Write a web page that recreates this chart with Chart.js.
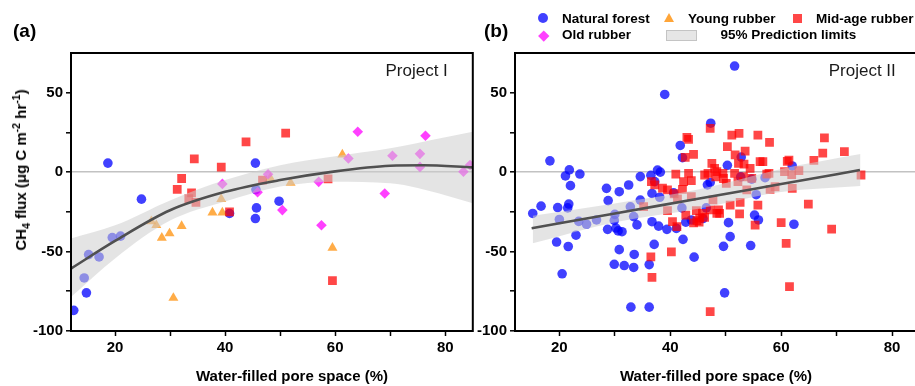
<!DOCTYPE html>
<html>
<head>
<meta charset="utf-8">
<script src="https://cdn.jsdelivr.net/npm/chart.js@4.4.1/dist/chart.umd.min.js"></script>
<style>
  body { margin: 0; width: 915px; height: 386px; overflow: hidden; background: #fff; position: relative;
         font-family: "Liberation Sans", Arial, sans-serif; color: #000; }
  canvas { position: absolute; top: 0; }
  #chartA { left: 0; }
  #chartB { left: 475px; }
  .txt { position: absolute; white-space: nowrap; font-weight: bold; }
  .leg { font-size: 13.5px; line-height: 16px; }
  .panel { font-size: 19px; line-height: 22px; top: 20px; }
  .xt { font-size: 15px; line-height: 18px; top: 367px; transform: translateX(-50%); }
  .yt { font-size: 15px; line-height: 18px; left: 21px; top: 170px; transform: translate(-50%, -50%) rotate(-90deg); }
  .yt sub, .yt sup { font-size: 70%; line-height: 0; }
  .mk { position: absolute; }
</style>
</head>
<body>
<canvas id="chartA" width="479" height="386"></canvas>
<canvas id="chartB" width="451" height="386"></canvas>

<div class="txt panel" style="left:13px">(a)</div>
<div class="txt panel" style="left:484px">(b)</div>
<div class="txt yt">CH<sub>4</sub> flux (μg C m<sup>-2</sup> hr<sup>-1</sup>)</div>
<div class="txt xt" style="left:292px">Water-filled pore space (%)</div>
<div class="txt xt" style="left:716px">Water-filled pore space (%)</div>

<div class="mk" style="left:538px;top:13px;width:10px;height:10px;border-radius:50%;background:rgba(0,0,255,0.75)"></div>
<div class="mk" style="left:664px;top:13px;width:0;height:0;border-left:5.4px solid transparent;border-right:5.4px solid transparent;border-bottom:9px solid rgba(255,140,0,0.78)"></div>
<div class="mk" style="left:792.5px;top:14px;width:9px;height:9px;background:rgba(255,0,0,0.72)"></div>
<div class="mk" style="left:540px;top:32px;width:7.5px;height:7.5px;transform:rotate(45deg);background:rgba(255,0,255,0.75)"></div>
<div class="mk" style="left:666px;top:30px;width:29px;height:9px;background:#e6e6e6;border:1px solid #c4c4c4"></div>
<div class="txt leg" style="left:562px;top:10.6px">Natural forest</div>
<div class="txt leg" style="left:688px;top:10.6px">Young rubber</div>
<div class="txt leg" style="left:816px;top:10.6px">Mid-age rubber</div>
<div class="txt leg" style="left:562px;top:27.3px">Old rubber</div>
<div class="txt leg" style="left:720.5px;top:27.3px">95% Prediction limits</div>

<script>
// axes
const xMin = 12, xMax = 85, yMin = -100, yMax = 75;
const xTicks = [20, 30, 40, 50, 60, 70, 80];
const yTicks = [-100, -75, -50, -25, 0, 25, 50];

// Project I
const forestA_x = [12.5, 14.8, 14.4, 15.2, 17.1, 19.5, 21.0, 18.7, 24.8, 40.8, 45.5, 45.6, 45.7, 45.5, 49.8];
const forestA_y = [-87, -76, -66.6, -51.9, -53.4, -41.2, -40.3, 5.7, -17, -26, 5.7, -11, -22.5, -29.2, -18.3];
const youngA_x = [26.6, 27.5, 28.5, 29.9, 32.1, 30.6, 37.7, 39.5, 39.3, 51.9, 48.2, 61.3, 59.5];
const youngA_y = [-30.9, -33.4, -41.4, -38.6, -34, -79.2, -25.4, -25.4, -17, -6.7, -3.7, 11.1, -47.7];
const midA_x = [31.3, 32.1, 34.4, 33.9, 33.4, 34.7, 39.3, 40.8, 43.8, 51.0, 46.8, 58.7, 59.5];
const midA_y = [-10.9, -4, 8.4, -13, -16.6, -19.1, 3.2, -25, 19.1, 24.6, -5, -4.2, -68.3];
const oldA_x = [39.5, 47.8, 45.9, 50.4, 57.0, 57.5, 64.1, 62.4, 69.0, 70.4, 75.4, 75.4, 76.4, 83.3, 84.5];
const oldA_y = [-7.4, -1.3, -12.7, -23.9, -6.1, -33.4, 25.4, 8.6, -13.4, 10.3, 11.5, 3.3, 22.9, 0.3, 4.5];
const fitA_x = [12, 20, 30, 40, 50, 60, 70, 76, 85];
const fitA_y = [-60.7, -43.3, -24, -12.4, -5, 0.5, 4, 4.3, 3];
const bandA_x = [12, 20, 30, 40, 50, 60, 70, 80, 85];
const bandA_hi = [-41.8, -33.5, -17.8, -5, 4.4, 10, 15, 22, 25.4];
const bandA_lo = [-78.6, -54.3, -30.5, -18.5, -9, -6, -7, -14.5, -19.6];

// Project II
const forestB_x = [15.2, 16.7, 18.3, 19.7, 20.0, 19.5, 20.5, 21.1, 21.8, 22.0, 21.7, 21.5, 21.6, 23.7, 23.0, 23.5, 24.9,
  26.7, 28.5, 28.8, 28.7, 29.9, 30.0, 30.8, 30.2, 30.6, 31.3, 30.8, 29.9, 31.7, 32.5, 32.8, 33.4, 34.0, 33.5, 33.4, 32.9,
  34.6, 34.6, 36.2, 36.2, 36.5, 36.7, 36.7, 37.1, 37.7, 38.2, 37.2, 38.1, 37.9, 39.0, 39.4, 40.6, 41.8, 42.2, 42.1, 42.3,
  41.1, 42.8, 43.8, 44.3, 45.9, 46.7, 47.3, 47.2, 49.6, 50.3, 50.5, 50.8, 49.8, 51.6, 52.8, 52.7, 54.5, 54.7, 55.2, 55.9,
  55.5, 57.1, 62.0, 62.3, 46.5];
const forestB_y = [-26, -21.4, 7.1, -22.3, -29.8, -44, -64, -2.4, 1.4, -8.5, -20.1, -22.5, -46.8, -1.2, -39.7, -31, -32.8,
  -30.1, -10.2, -17.9, -36, -30.4, -26.6, -12.3, -35.2, -37, -37.5, -48.8, -58, -58.8, -8.1, -21.8, -28, -33.2, -51.8, -60, -85,
  -2.8, -17.6, -58.2, -85, -2, -13.4, -31.2, -45.5, 1.3, 0, -6, -15.8, -34, 48.9, -36, -13, 16.8, 9.1, -22.5, -42.3,
  -35.4, -31.5, -30.1, -53.5, -29.2, -8, 30.8, -6.5, -46.7, 4.3, -31.8, -40.6, -76, 66.8, 9.5, -3, -46.2, -4.4, -27, -30.1,
  -14.2, -3.5, 3.9, -32.8, -22.5];
const midB_x = [35.2, 36.6, 37.2, 36.5, 36.7, 38.6, 39.5, 40.2, 39.5, 41.0, 40.7, 41.3, 40.4, 41.2, 42.2, 42.4, 43.0, 43.3,
  42.7, 43.3, 43.8, 44.2, 43.8, 42.8, 44.7, 44.8, 45.3, 45.8, 46.8, 47.5, 47.2, 48.0, 48.2, 47.7, 48.7, 48.9, 47.2, 48.4,
  50.3, 49.5, 50.1, 50.8, 51.1, 52.4, 51.7, 52.3, 51.6, 52.2, 52.6, 52.5, 53.5, 53.3, 54.4, 53.8, 55.8, 56.2, 56.7, 57.4,
  57.9, 55.8, 55.3, 58.0, 58.9, 60.0, 60.9, 61.5, 61.1, 61.4, 60.6, 61.9, 62.0, 63.2, 64.9, 65.9, 67.5, 67.8, 69.1, 71.4,
  74.4, 47.2, 46.2, 48.4, 49.6, 53.2, 54.7, 57.8, 44.2, 45.2, 46.2];
const midB_y = [-21.7, -6, -8, -53.3, -66.3, -10.1, -11.2, -50.2, -24.2, -1.2, -13.6, -16.9, -31.2, -34.3, -10.9, -6, 21.9, 20.6,
  9.3, -0.8, -5.4, 11.2, -15.4, -27, -24.2, -30.5, -29, -26, -0.8, 5.5, 27.5, 2.4, -2.9, -17.5, -23.8, -26, -23.8, -25.9,
  16, -0.8, -7.1, -20.7, 23.3, 24.4, 10.8, 5.5, -0.8, -6, -19, -26.3, 13.3, 5.1, 2.4, -11.2, 23.3, 6.6, 6.6, -1.2,
  18.7, -20.7, -33.3, -10.9, -9.2, -31.8, -44.8, -72, 6.8, 7.6, 0.3, -1.5, -10.2, 0.9, -20.2, 7.4, 11.9, 21.5, -35.9, 12.9,
  -1.8, -87.8, -1.8, 0.3, -4, -2.9, -3.9, -0.8, -32, -31.5, -28.5];
const fitB_x = [15, 30, 45, 60, 74.2];
const fitB_y = [-35.3, -26, -16.8, -7.5, 1.3];
const bandB_x = [15.2, 30, 45, 60, 74.3];
const bandB_hi = [-27.5, -19.7, -11, 2, 11.4];
const bandB_lo = [-44.8, -31.5, -23, -12.5, -8.7];

const FONT = '"Liberation Sans", Arial, sans-serif';
const zip = (xs, ys) => xs.map((x, i) => ({ x, y: ys[i] }));

const framePlugin = {
  id: 'frame',
  afterDraw(chart, args, opts) {
    const { ctx, chartArea: a } = chart;
    ctx.save();
    ctx.strokeStyle = '#000';
    ctx.lineWidth = 2;
    ctx.strokeRect(a.left, a.top, a.right - a.left, a.bottom - a.top);
    ctx.font = '17px ' + FONT;
    ctx.fillStyle = '#1a1a1a';
    ctx.textAlign = 'right';
    ctx.textBaseline = 'alphabetic';
    ctx.fillText(opts.text, a.right - opts.right, a.top + 22.5);
    ctx.restore();
  }
};

function pts(data, color, style, radius, order) {
  return { type: 'scatter', data, backgroundColor: color, pointStyle: style, pointRadius: radius,
           pointBorderWidth: 0, pointHoverRadius: radius, order };
}

function curve(data, opts) {
  return Object.assign({ type: 'line', data, pointRadius: 0, cubicInterpolationMode: 'monotone', fill: false }, opts);
}

function makeChart(id, groups, fit, hi, lo, label, axisW, padR, labelRight) {
  const datasets = [
    curve(fit, { borderColor: '#505050', borderWidth: 2.6, order: 0 }),
    curve(hi, { borderWidth: 0, borderColor: 'rgba(0,0,0,0)', backgroundColor: 'rgba(205,205,205,0.55)', fill: '+1', order: 1 }),
    curve(lo, { borderWidth: 0, borderColor: 'rgba(0,0,0,0)', order: 2 }),
    ...groups
  ];
  const tickFont = { family: FONT, size: 15, weight: 'bold' };
  return new Chart(document.getElementById(id), {
    type: 'scatter',
    data: { datasets },
    plugins: [framePlugin],
    options: {
      responsive: false,
      animation: false,
      layout: { padding: { top: 53, right: padR, left: 0, bottom: 0 } },
      plugins: { legend: { display: false }, tooltip: { enabled: false }, frame: { text: label, right: labelRight } },
      scales: {
        x: {
          type: 'linear', min: xMin, max: xMax,
          afterBuildTicks: s => { s.ticks = xTicks.map(v => ({ value: v })); },
          afterFit: s => { s.height = 55; },
          border: { display: false },
          grid: { drawOnChartArea: false, tickColor: '#000', tickLength: 5, tickWidth: 1.5 },
          ticks: { padding: 3, font: tickFont, color: '#000', autoSkip: false, maxRotation: 0,
                   callback: v => (v % 20 === 0 ? v : '') }
        },
        y: {
          type: 'linear', min: yMin, max: yMax,
          afterBuildTicks: s => { s.ticks = yTicks.map(v => ({ value: v })); },
          afterFit: s => { s.width = axisW; },
          border: { display: false },
          grid: { color: c => (c.tick && c.tick.value === 0 ? '#c2c2c2' : 'rgba(0,0,0,0)'), lineWidth: 1.6,
                  tickColor: '#000', tickLength: 5, tickWidth: 1.5 },
          ticks: { padding: 3, font: tickFont, color: '#000', autoSkip: false,
                   callback: v => (v % 50 === 0 ? v : '') }
        }
      }
    }
  });
}

const BLUE = 'rgba(0,0,255,0.75)', ORANGE = 'rgba(255,140,0,0.72)', RED = 'rgba(255,0,0,0.72)', MAGENTA = 'rgba(255,0,255,0.75)';

makeChart('chartA', [
  pts(zip(oldA_x, oldA_y), MAGENTA, 'rectRot', 5.3, 3),
  pts(zip(midA_x, midA_y), RED, 'rect', 6.2, 4),
  pts(zip(youngA_x, youngA_y), ORANGE, 'triangle', 5.8, 5),
  pts(zip(forestA_x, forestA_y), BLUE, 'circle', 4.8, 6)
], zip(fitA_x, fitA_y), zip(bandA_x, bandA_hi), zip(bandA_x, bandA_lo), 'Project I', 71, 2, 25);

makeChart('chartB', [
  pts(zip(midB_x, midB_y), RED, 'rect', 6.2, 4),
  pts(zip(forestB_x, forestB_y), BLUE, 'circle', 4.8, 6)
], zip(fitB_x, fitB_y), zip(bandB_x, bandB_hi), zip(bandB_x, bandB_lo), 'Project II', 40, 0, 24);
</script>
</body>
</html>
